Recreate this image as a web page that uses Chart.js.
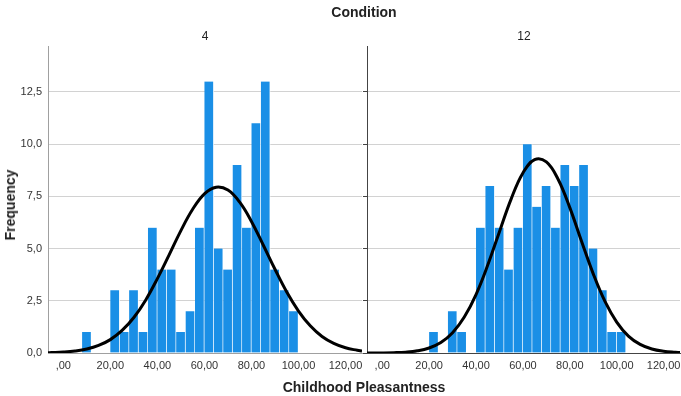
<!DOCTYPE html>
<html>
<head>
<meta charset="utf-8">
<script src="https://cdn.jsdelivr.net/npm/chart.js@4"></script>
<style>
  body { margin: 0; background: #fff; font-family: "Liberation Sans", Arial, sans-serif; }
  #wrap { position: relative; width: 681px; height: 396px; overflow: hidden; }
  canvas { position: absolute; }
  .lbl { position: absolute; color: #222; white-space: nowrap; transform: translate(-50%, -50%); }
  .bold { font-weight: bold; font-size: 14px; }
</style>
</head>
<body>
<div id="wrap">
  <canvas id="c4" style="left:0;top:0;width:364px;height:396px" width="364" height="396"></canvas>
  <canvas id="c12" style="left:360px;top:0;width:321px;height:396px" width="321" height="396"></canvas>
  <div class="lbl bold" style="left:364px;top:12px">Condition</div>
  <div class="lbl" style="left:205px;top:36px;font-size:12px">4</div>
  <div class="lbl" style="left:524px;top:36px;font-size:12px">12</div>
  <div class="lbl bold" style="left:10px;top:205px;transform:translate(-50%,-50%) rotate(-90deg)">Frequency</div>
  <div class="lbl bold" style="left:364px;top:387px">Childhood Pleasantness</div>
</div>
<script>
// histogram bins (centre of each 4-wide bin)
const binsLeft = [10, 22, 26, 30, 34, 38, 42, 46, 50, 54, 58, 62, 66, 70, 74, 78, 82, 86, 90, 94, 98];
const countsLeft = [1, 3, 1, 3, 1, 6, 4, 4, 1, 2, 6, 13, 5, 4, 9, 6, 11, 13, 4, 3, 2];

const binsRight = [22, 30, 34, 42, 46, 50, 54, 58, 62, 66, 70, 74, 78, 82, 86, 90, 94, 98, 102];
const countsRight = [1, 2, 1, 6, 8, 6, 4, 6, 10, 7, 8, 6, 9, 8, 9, 5, 3, 1, 1];

// normal curve
const curveX = [-6.5, -5, 0, 5, 10, 15, 20, 25, 30, 35, 40, 45, 50, 55, 60, 65, 70, 75, 80, 85, 90, 95, 100, 105, 110, 115, 120, 125, 127];
const curveLeft = [0.015, 0.02, 0.045, 0.095, 0.19, 0.36, 0.64, 1.08, 1.70, 2.53, 3.56, 4.70, 5.86, 6.88, 7.62, 7.94, 7.80, 7.22, 6.30, 5.17, 4.01, 2.92, 2.01, 1.30, 0.79, 0.46, 0.25, 0.13, 0.095];
const curveRight = [0.001, 0.002, 0.005, 0.016, 0.042, 0.105, 0.24, 0.50, 0.97, 1.72, 2.80, 4.21, 5.81, 7.38, 8.62, 9.26, 9.15, 8.32, 6.96, 5.35, 3.79, 2.47, 1.48, 0.81, 0.41, 0.19, 0.082, 0.032, 0.022];

const xTicks = [0, 20, 40, 60, 80, 100, 120];
const yTicks = [0, 2.5, 5, 7.5, 10, 12.5];

Chart.defaults.font.family = '"Liberation Sans", Arial, sans-serif';
Chart.defaults.color = '#333';

function fmtX(v) {
  return v === 0 ? ',00' : v + ',00';
}
function fmtY(v) {
  return v.toFixed(1).replace('.', ',');
}

function makeChart(id, bins, counts, curve, first) {
  const ctx = document.getElementById(id).getContext('2d');
  return new Chart(ctx, {
    type: 'bar',
    data: {
      datasets: [{
        type: 'line',
        data: curveX.map((x, i) => ({ x: x, y: curve[i] })),
        borderColor: '#000',
        borderWidth: 3,
        pointRadius: 0,
        tension: 0.4,
        fill: false,
        order: 0
      }, {
        type: 'bar',
        data: bins.map((x, i) => ({ x: x, y: counts[i] })),
        backgroundColor: '#1a8fe6',
        borderColor: 'rgba(255,255,255,0.8)',
        borderWidth: { left: 0, right: 1, top: 0, bottom: 0 },
        borderSkipped: false,
        categoryPercentage: 1,
        barPercentage: 1,
        order: 1
      }]
    },
    options: {
      responsive: false,
      animation: false,
      layout: { padding: { top: 46, bottom: 0, left: 0, right: first ? 2 : 1 } },
      plugins: { legend: { display: false }, tooltip: { enabled: false } },
      scales: {
        x: {
          type: 'linear',
          offset: false,
          min: -6.5,
          max: 127,
          afterFit: s => { s.height = 43; s.paddingLeft = 0; s.paddingRight = 0; },
          afterBuildTicks: s => { s.ticks = xTicks.map(v => ({ value: v })); },
          ticks: { callback: fmtX, font: { size: 11 }, padding: 6, maxRotation: 0 },
          grid: { display: false, drawTicks: false, offset: false },
          border: { display: true, color: first ? '#a0a0a0' : '#444', width: 1 }
        },
        y: {
          min: 0,
          max: 14.7,
          afterFit: s => { s.width = first ? 48 : 7; s.paddingTop = 0; s.paddingBottom = 0; },
          afterBuildTicks: s => { s.ticks = yTicks.map(v => ({ value: v })); },
          ticks: { callback: first ? fmtY : () => '', font: { size: 11 }, padding: 6 },
          grid: {
            color: '#d2d2d2',
            lineWidth: 1,
            drawTicks: !first,
            tickLength: 4,
            tickColor: '#444'
          },
          border: { display: true, color: first ? '#a0a0a0' : '#444', width: 1 }
        }
      }
    }
  });
}

makeChart('c4', binsLeft, countsLeft, curveLeft, true);
makeChart('c12', binsRight, countsRight, curveRight, false);
</script>
</body>
</html>
